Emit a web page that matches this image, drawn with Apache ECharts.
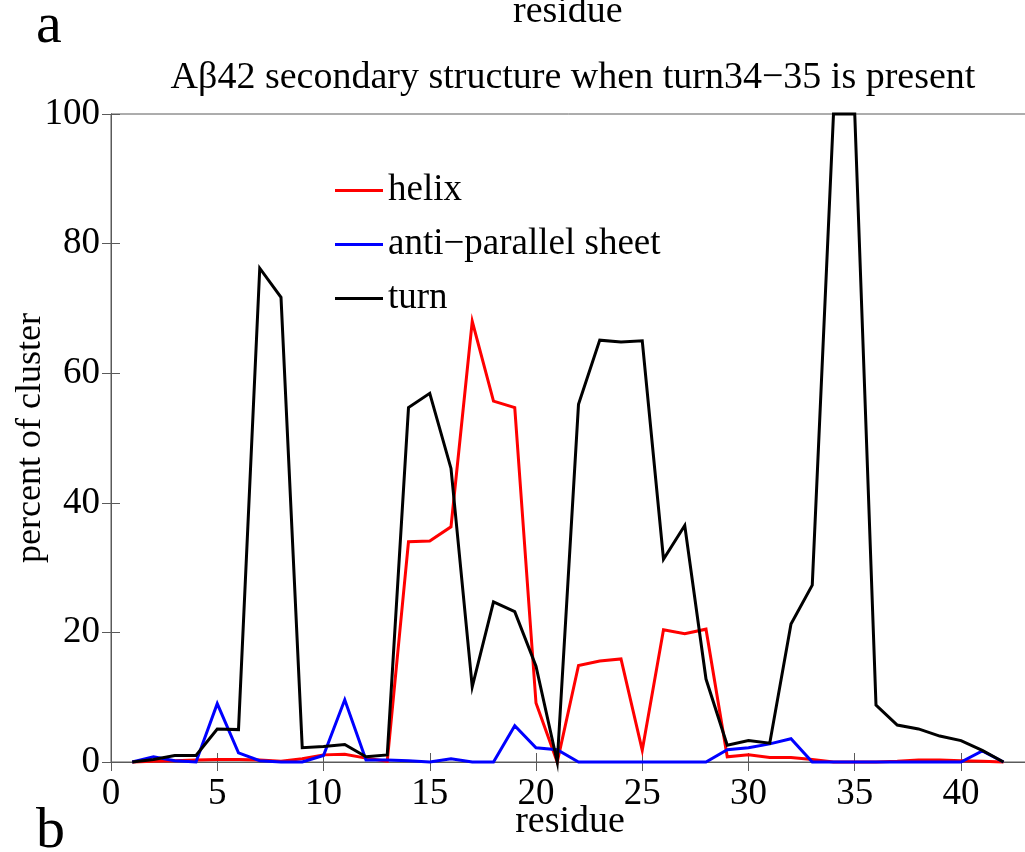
<!DOCTYPE html>
<html>
<head>
<meta charset="utf-8">
<script src="https://cdn.jsdelivr.net/npm/echarts@6/dist/echarts.min.js"></script>
<style>
  html, body { margin: 0; padding: 0; background: #fff; }
  #chart { width: 1025px; height: 852px; }
</style>
</head>
<body>
<div id="chart"></div>
<script>
// residue index 1..42
const residues = [1, 2, 3, 4, 5, 6, 7, 8, 9, 10, 11, 12, 13, 14, 15, 16, 17, 18, 19, 20, 21,
  22, 23, 24, 25, 26, 27, 28, 29, 30, 31, 32, 33, 34, 35, 36, 37, 38, 39, 40, 41, 42];

const helix = [0, 0.1, 0.2, 0.3, 0.4, 0.4, 0.3, 0.1, 0.5, 1.1, 1.2, 0.6, 0.1, 34.0, 34.1, 36.3, 68.0,
  55.7, 54.7, 9.1, 0, 14.9, 15.6, 15.9, 1.8, 20.4, 19.8, 20.5, 0.8, 1.1, 0.7, 0.7, 0.4,
  0, 0, 0, 0.1, 0.3, 0.3, 0.2, 0.1, 0];

const sheet = [0, 0.8, 0.2, 0, 9.0, 1.4, 0.2, 0, 0, 1.0, 9.6, 0.3, 0.3, 0.2, 0, 0.5, 0,
  0, 5.6, 2.2, 1.9, 0, 0, 0, 0, 0, 0, 0, 1.9, 2.2, 2.8, 3.6, 0,
  0, 0, 0, 0, 0, 0, 0, 1.7, 0];

const turn = [0, 0.4, 1.0, 1.0, 5.1, 5.0, 76.2, 71.7, 2.2, 2.4, 2.7, 0.8, 1.1, 54.7, 56.9, 45.3, 11.6,
  24.7, 23.2, 14.8, 0, 55.2, 65.1, 64.8, 65.0, 31.3, 36.5, 12.8, 2.6, 3.3, 2.9, 21.3, 27.3,
  100, 100, 8.8, 5.7, 5.1, 4.0, 3.3, 1.8, 0];

const seriesNames = ['helix', 'anti\u2212parallel sheet', 'turn'];
const seriesColors = ['#ff0000', '#0000ff', '#000000'];
const xTicks = [0, 5, 10, 15, 20, 25, 30, 35, 40];
const yTicks = [0, 20, 40, 60, 80, 100];

const font = 'Liberation Serif';

function pairs(vals) {
  return residues.map((r, i) => [r, vals[i]]);
}

const chart = echarts.init(document.getElementById('chart'));

const axisLineStyle = {color: '#5a5a5a', width: 1};
const tick = (vals) => ({show: true, inside: true, length: 9, lineStyle: axisLineStyle, customValues: vals});

chart.setOption({
  animation: false,
  backgroundColor: '#fff',
  title: {
    text: 'A\u03b242 secondary structure when turn34\u221235 is present',
    left: 568,
    top: 54,
    textAlign: 'center',
    textStyle: {fontFamily: font, fontWeight: 'normal', fontSize: 38, color: '#000'}
  },
  graphic: [
    {type: 'text', left: 36, top: -2, style: {text: 'a', font: '58px "Liberation Serif"', fill: '#000'}},
    {type: 'text', left: 36, top: 803, style: {text: 'b', font: '58px "Liberation Serif"', fill: '#000'}},
    {type: 'text', left: 513, top: -7, style: {text: 'residue', font: '38px "Liberation Serif"', fill: '#000'}}
  ],
  legend: {
    left: 330,
    top: 167,
    orient: 'vertical',
    icon: 'rect',
    itemWidth: 48,
    itemHeight: 3,
    itemGap: 17,
    textStyle: {fontFamily: font, fontSize: 37, color: '#000', padding: [0, 0, 0, 0]},
    data: seriesNames
  },
  grid: {
    left: 111, right: -4, top: 114, bottom: 90,
    outerBoundsMode: 'none', containLabel: false,
    show: true, borderColor: '#5a5a5a', borderWidth: 1, backgroundColor: 'transparent'
  },
  xAxis: [
    {
      type: 'value', min: 0, max: 43.2,
      name: 'residue', nameLocation: 'middle', nameGap: 41, nameMoveOverlap: false,
      nameTextStyle: {fontFamily: font, fontSize: 38, color: '#000'},
      axisLine: {show: true, lineStyle: axisLineStyle},
      axisTick: tick(xTicks),
      axisLabel: {fontFamily: font, fontSize: 37, color: '#000', margin: 14, customValues: xTicks},
      splitLine: {show: false}
    },
    {
      type: 'value', min: 0, max: 43.2, position: 'top',
      axisLine: {show: true, lineStyle: axisLineStyle},
      axisTick: tick(xTicks),
      axisLabel: {show: false},
      splitLine: {show: false}
    }
  ],
  yAxis: [
    {
      type: 'value', min: 0, max: 100,
      name: 'percent of cluster', nameLocation: 'middle', nameGap: 62, nameMoveOverlap: false,
      nameTextStyle: {fontFamily: font, fontSize: 36, color: '#000'},
      axisLine: {show: true, lineStyle: axisLineStyle},
      axisTick: tick(yTicks),
      axisLabel: {fontFamily: font, fontSize: 37, color: '#000', margin: 11, customValues: yTicks},
      splitLine: {show: false}
    },
    {
      type: 'value', min: 0, max: 100, position: 'right',
      axisLine: {show: true, lineStyle: axisLineStyle},
      axisTick: tick(yTicks),
      axisLabel: {show: false},
      splitLine: {show: false}
    }
  ],
  series: [
    {name: seriesNames[0], type: 'line', data: pairs(helix), z: 2},
    {name: seriesNames[1], type: 'line', data: pairs(sheet), z: 3},
    {name: seriesNames[2], type: 'line', data: pairs(turn), z: 4}
  ].map((s, i) => Object.assign(s, {
    showSymbol: false,
    symbol: 'none',
    clip: false,
    color: seriesColors[i],
    lineStyle: {color: seriesColors[i], width: 3, join: 'miter'}
  }))
});
</script>
</body>
</html>
